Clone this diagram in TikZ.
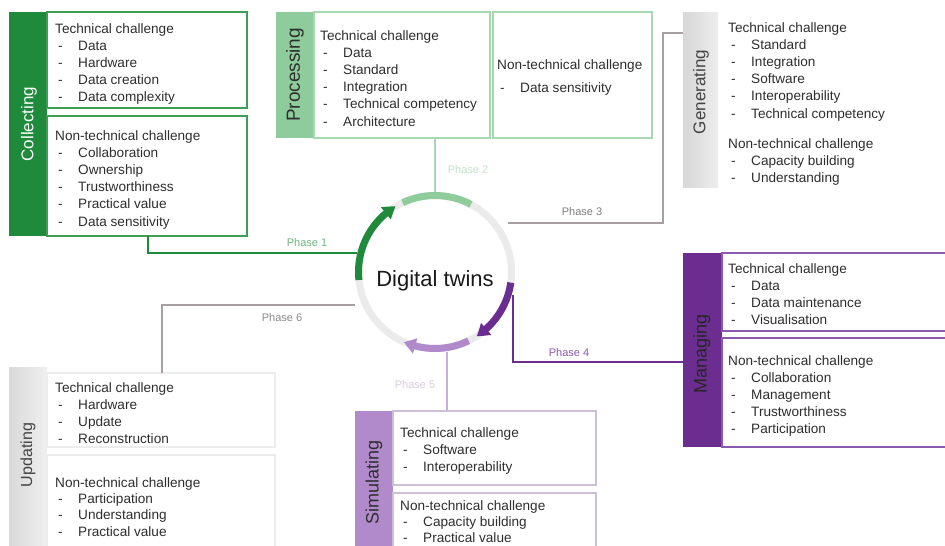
\documentclass[tikz,border=0pt]{standalone}
\usepackage{fontspec}
\setmainfont{Liberation Sans}
\usetikzlibrary{arrows.meta,bending}
\definecolor{txtc}{HTML}{2E2E2E}
\definecolor{dgreen}{HTML}{1F8A3B}
\definecolor{cgreen}{HTML}{3E9E55}
\definecolor{lgreen}{HTML}{8FCC9B}
\definecolor{lgreenb}{HTML}{A9D7B2}
\definecolor{dpurple}{HTML}{6B2D8F}
\definecolor{mpurple}{HTML}{8A5AAE}
\definecolor{lav}{HTML}{B08ACB}
\definecolor{lavb}{HTML}{CDBFD6}
\definecolor{grayline}{HTML}{A8A0A0}
\definecolor{ringc}{HTML}{EBEBEB}
\definecolor{faint}{HTML}{ECECEC}
\newcommand\hd[1]{\hbox{#1}}
\newcommand\itm[1]{\hbox{\hspace*{3pt}\makebox[20pt][l]{-}#1}}
\newcommand\blk[1]{\vtop{\baselineskip=17.2pt\lineskiplimit=-20pt #1}}
\newcommand\blks[1]{\vtop{\baselineskip=16.4pt\lineskiplimit=-20pt #1}}
\tikzset{
  bar/.style={anchor=north west, inner sep=0pt, outer sep=0pt},
  boxr/.style={anchor=north west, inner sep=0pt, outer sep=0pt, line width=1.6pt},
  txt/.style={anchor=base west, inner sep=0pt, text=txtc, font=\fontsize{13.6}{17.2}\selectfont},
  vlabel/.style={rotate=90, inner sep=0pt, text=txtc},
  phase/.style={inner sep=0pt, font=\fontsize{11}{13}\selectfont},
  conn/.style={line width=1.8pt},
}
\begin{document}
\begin{tikzpicture}[x=1pt,y=-1pt]
\useasboundingbox[fill=white] (0,0) rectangle (945,546);

% ---------- Collecting ----------
\node[bar, fill=dgreen, minimum width=38pt, minimum height=224pt] (colbar) at (9,12) {};
\node[vlabel, text=white, font=\fontsize{17}{20}\selectfont] (collbl) at (29,124) {Collecting};
\node[boxr, draw=cgreen, minimum width=200pt, minimum height=96pt] (colA) at (47,12) {};
\node[boxr, draw=cgreen, minimum width=200pt, minimum height=120pt] (colB) at (47,116) {};
\node[txt] (colAt) at (55,33) {\blk{\hd{Technical challenge}\itm{Data}\itm{Hardware}\itm{Data creation}\itm{Data complexity}}};
\node[txt] (colBt) at (55,140) {\blk{\hd{Non-technical challenge}\itm{Collaboration}\itm{Ownership}\itm{Trustworthiness}\itm{Practical value}\itm{Data sensitivity}}};

% ---------- Processing ----------
\node[bar, fill=lgreen, minimum width=38pt, minimum height=126pt] (probar) at (276,12) {};
\node[vlabel, text=txtc, font=\fontsize{19}{22}\selectfont] (prolbl) at (295,75) {Processing};
\node[boxr, draw=lgreenb, minimum width=176pt, minimum height=126pt] (proA) at (314,12) {};
\node[boxr, draw=lgreenb, minimum width=159pt, minimum height=126pt] (proB) at (493,12) {};
\node[txt] (proAt) at (320,40) {\blk{\hd{Technical challenge}\itm{Data}\itm{Standard}\itm{Integration}\itm{Technical competency}\itm{Architecture}}};
\node[txt] (proBt) at (497,69) {\blk{\hd{Non-technical challenge}\vskip6pt\itm{Data sensitivity}}};

% ---------- Generating ----------
\node[bar, left color=black!16, right color=black!7, minimum width=35pt, minimum height=175pt] (genbar) at (683,12) {};
\node[vlabel, text=txtc!90, font=\fontsize{17}{20}\selectfont] (genlbl) at (701,92) {Generating};
\node[txt] (genAt) at (728,32) {\blk{\hd{Technical challenge}\itm{Standard}\itm{Integration}\itm{Software}\itm{Interoperability}\itm{Technical competency}}};
\node[txt] (genBt) at (728,148) {\blk{\hd{Non-technical challenge}\itm{Capacity building}\itm{Understanding}}};

% ---------- Managing ----------
\node[bar, fill=dpurple, minimum width=39pt, minimum height=194pt] (manbar) at (683,253) {};
\node[vlabel, text=black!85, font=\fontsize{18}{21}\selectfont] (manlbl) at (702,354) {Managing};
\node[boxr, draw=mpurple, minimum width=230pt, minimum height=78pt] (manA) at (722,253) {};
\node[boxr, draw=mpurple, minimum width=230pt, minimum height=109pt] (manB) at (722,338) {};
\node[txt] (manAt) at (728,273) {\blk{\hd{Technical challenge}\itm{Data}\itm{Data maintenance}\itm{Visualisation}}};
\node[txt] (manBt) at (728,365) {\blk{\hd{Non-technical challenge}\itm{Collaboration}\itm{Management}\itm{Trustworthiness}\itm{Participation}}};

% ---------- Simulating ----------
\node[bar, fill=lav, minimum width=38pt, minimum height=140pt] (simbar) at (355,411) {};
\node[vlabel, text=txtc, font=\fontsize{18}{21}\selectfont] (simlbl) at (374,482) {Simulating};
\node[boxr, draw=lavb, minimum width=203pt, minimum height=74pt] (simA) at (393,411) {};
\node[boxr, draw=lavb, minimum width=203pt, minimum height=60pt] (simB) at (393,493) {};
\node[txt] (simAt) at (400,437) {\blk{\hd{Technical challenge}\itm{Software}\itm{Interoperability}}};
\node[txt] (simBt) at (400,510) {\blks{\hd{Non-technical challenge}\itm{Capacity building}\itm{Practical value}}};

% ---------- Updating ----------
\node[bar, left color=black!15, right color=black!6, minimum width=38pt, minimum height=180pt] (updbar) at (9,367) {};
\node[vlabel, text=txtc!90, font=\fontsize{16}{19}\selectfont] (updlbl) at (28,455) {Updating};
\node[boxr, draw=faint, line width=1.2pt, minimum width=228pt, minimum height=74pt] (updA) at (47,373) {};
\node[boxr, draw=faint, line width=1.2pt, minimum width=228pt, minimum height=95pt] (updB) at (47,455) {};
\node[txt] (updAt) at (55,392) {\blk{\hd{Technical challenge}\itm{Hardware}\itm{Update}\itm{Reconstruction}}};
\node[txt] (updBt) at (55,487) {\blks{\hd{Non-technical challenge}\itm{Participation}\itm{Understanding}\itm{Practical value}}};

% ---------- Centre ring ----------
\node[circle, draw=ringc, line width=7pt, minimum size=153pt, inner sep=0pt] (dt) at (435,272) {};
\begin{scope}[shift={(435,272)}, yscale=-1, line width=7pt]
  \draw[dgreen, -{Triangle[length=12pt,width=15pt,bend]}] (186:76.5) arc[start angle=186, end angle=121, radius=76.5];
  \draw[lgreen] (115:76.5) arc[start angle=115, end angle=62, radius=76.5];
  \draw[dpurple, -{Triangle[length=12pt,width=15pt,bend]}] (-8:76.5) arc[start angle=-8, end angle=-57, radius=76.5];
  \draw[lav, -{Triangle[length=12pt,width=15pt,bend]}] (-64:76.5) arc[start angle=-64, end angle=-114, radius=76.5];
\end{scope}
\node[anchor=base, inner sep=0pt, text=black!90, font=\fontsize{22}{26}\selectfont] (dtl) at (435,286) {Digital twins};

% ---------- Connectors ----------
\coordinate (c1) at (148,253);
\coordinate (c3a) at (508,223);
\coordinate (c3b) at (663,33);
\coordinate (c4) at (513,295);
\coordinate (y4) at (0,362);
\coordinate (c5) at (447,0);
\coordinate (c6) at (162,305);

\draw[conn, dgreen] (colB.south -| c1) |- (dt.166);
\draw[conn, lgreenb] (dt.north) -- (dt.north |- proA.south);
\draw[conn, grayline, line width=1.5pt] (c3a) -| (c3b) -- (genbar.west |- c3b);
\draw[conn, dpurple] (c4) |- (manbar.west |- y4);
\draw[conn, lavb!80!lav] (dt.south -| c5) -- (simA.north -| c5);
\draw[conn, grayline, line width=1.5pt] (dt.west |- c6) -| (updA.north -| c6);

% ---------- Phase labels ----------
\node[phase, text=cgreen!75] (ph1) at (307,243) {Phase 1};
\node[phase, text=lgreenb!70] (ph2) at (468,170) {Phase 2};
\node[phase, text=black!50] (ph3) at (582,212) {Phase 3};
\node[phase, text=mpurple] (ph4) at (569,353) {Phase 4};
\node[phase, text=lavb!80] (ph5) at (415,385) {Phase 5};
\node[phase, text=black!45] (ph6) at (282,318) {Phase 6};
\end{tikzpicture}
\end{document}
